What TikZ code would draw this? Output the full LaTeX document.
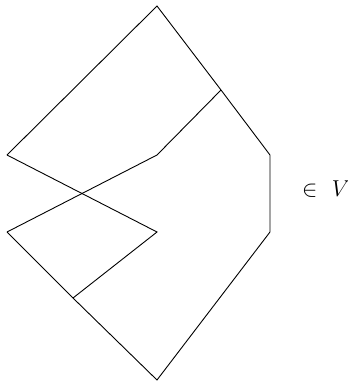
\documentclass[tikz,border=0pt]{standalone}
\usepackage{type1cm}
\begin{document}
\begin{tikzpicture}[x=1pt,y=-1pt,edge/.style={draw=black,line width=0.9pt,line join=miter}]
\useasboundingbox (0,0) rectangle (348,386);
\coordinate (T) at (157,6);
\coordinate (A) at (221,90);
\coordinate (R1) at (270,155);
\coordinate (R2) at (270,232);
\coordinate (B) at (157,380);
\coordinate (C) at (73,298);
\coordinate (L2) at (7,232);
\coordinate (L1) at (7,155);
\coordinate (M) at (157,232);
\coordinate (N) at (157,155);
\draw[edge] (L1) -- (T) -- (A) -- (R1) -- (R2) -- (B) -- (C) -- (L2);
\draw[edge] (L1) -- (M) -- (C);
\draw[edge] (L2) -- (N) -- (A);
\node[font=\fontsize{23}{27}\selectfont, inner sep=0pt, anchor=base west] (lab) at (302,196) {$\in\hspace{8pt}V$};
\end{tikzpicture}
\end{document}
